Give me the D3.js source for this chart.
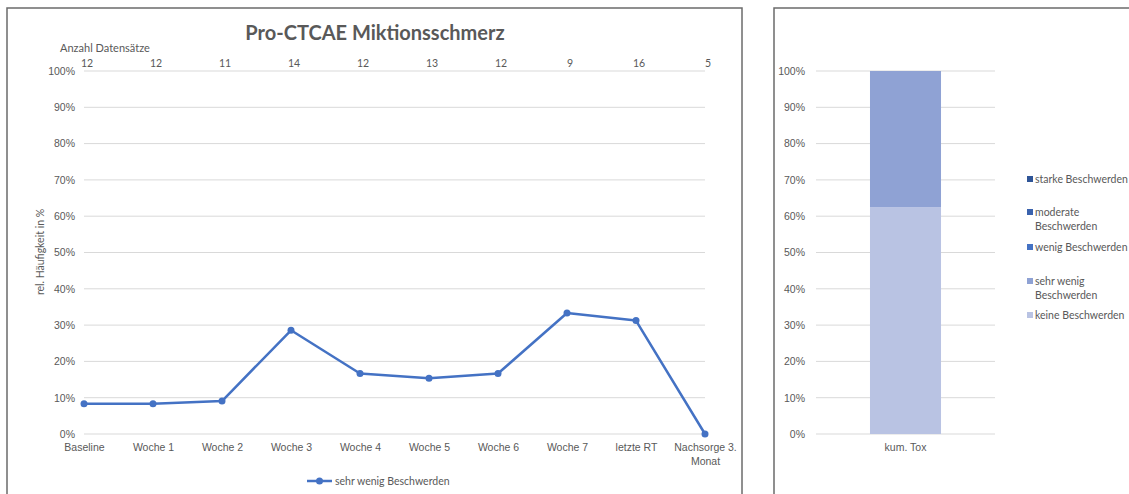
<!DOCTYPE html>
<html>
<head>
<meta charset="utf-8">
<script src="https://cdn.jsdelivr.net/npm/d3@7"></script>
<style>
  body { margin: 0; background: #fff; }
  svg { font-family: Lato, "Open Sans", sans-serif; }
  .tick text { fill: #595959; font-size: 10.5px; }
</style>
</head>
<body>
<svg width="1129" height="494"></svg>
<script>
// Linke Grafik: Verlauf "sehr wenig Beschwerden"
let categories = ['Baseline', 'Woche 1', 'Woche 2', 'Woche 3', 'Woche 4', 'Woche 5', 'Woche 6', 'Woche 7', 'letzte RT', 'Nachsorge 3. Monat'];
let counts = [12, 12, 11, 14, 12, 13, 12, 9, 16, 5];
let sehrWenig = [0.0833, 0.0833, 0.0909, 0.2857, 0.1667, 0.1538, 0.1667, 0.3333, 0.3125, 0];

// Rechte Grafik: kumulative Toxizität
let stackKeys = ['keine Beschwerden', 'sehr wenig Beschwerden', 'wenig Beschwerden', 'moderate Beschwerden', 'starke Beschwerden'];
let stackValues = [0.625, 0.375, 0, 0, 0];
let stackColors = ['#b9c3e3', '#8fa2d4', '#4472c4', '#3a62ad', '#2f5597'];
let yTicks = [0, 0.1, 0.2, 0.3, 0.4, 0.5, 0.6, 0.7, 0.8, 0.9, 1];

let svg = d3.select('svg');
let textColor = '#595959';
let gridColor = '#d9d9d9';
let lineColor = '#4472c4';

// Rahmen
svg.append('rect').attr('x', 7).attr('y', 8).attr('width', 735).attr('height', 500)
  .attr('fill', 'none').attr('stroke', '#6b6b6b').attr('stroke-width', 1.5);
svg.append('rect').attr('x', 774).attr('y', 8).attr('width', 400).attr('height', 500)
  .attr('fill', 'none').attr('stroke', '#6b6b6b').attr('stroke-width', 1.5);

let yScale = d3.scaleLinear().domain([0, 1]).range([434, 71]);

let xScale = d3.scalePoint()
  .domain(categories)
  .range([84, 705]);

// Gitterlinien links
svg.append('g')
  .selectAll('line')
  .data(yTicks)
  .enter()
  .append('line')
  .attr('x1', 84).attr('x2', 705)
  .attr('y1', d => yScale(d)).attr('y2', d => yScale(d))
  .attr('stroke', gridColor).attr('stroke-width', 1);

let yAxis = d3.axisLeft(yScale).tickValues(yTicks).tickFormat(d3.format('.0%')).tickSize(0).tickPadding(9);
svg.append('g')
  .attr('transform', 'translate(84,0)')
  .call(yAxis)
  .call(g => g.select('.domain').remove());

let xAxis = d3.axisBottom(xScale).tickSize(0).tickPadding(10);
svg.append('g')
  .attr('transform', 'translate(0,434)')
  .call(xAxis)
  .call(g => g.select('.domain').remove())
  .selectAll('.tick text')
  .each(function (d) {
    if (d === 'Nachsorge 3. Monat') {
      let t = d3.select(this).text(null);
      t.append('tspan').attr('x', 0).text('Nachsorge 3.');
      t.append('tspan').attr('x', 0).attr('dy', '1.3em').text('Monat');
    }
  });

// Anzahl Datensätze
svg.append('text')
  .attr('x', 60).attr('y', 52)
  .attr('fill', textColor).style('font-size', '11px')
  .text('Anzahl Datensätze');

svg.append('g')
  .selectAll('text')
  .data(counts)
  .enter()
  .append('text')
  .attr('x', (d, i) => xScale(categories[i]) + 3)
  .attr('y', 67)
  .attr('text-anchor', 'middle')
  .attr('fill', textColor).style('font-size', '10.5px')
  .text(d => d);

// Titel
svg.append('text')
  .attr('x', 375).attr('y', 40)
  .attr('text-anchor', 'middle')
  .attr('fill', textColor)
  .style('font-size', '20px').style('font-weight', 'bold')
  .text('Pro-CTCAE Miktionsschmerz');

// Achsentitel
svg.append('text')
  .attr('transform', 'rotate(-90)')
  .attr('x', -252).attr('y', 44)
  .attr('text-anchor', 'middle')
  .attr('fill', textColor).style('font-size', '10.5px')
  .text('rel. Häufigkeit in %');

// Linie
let line = d3.line()
  .x((d, i) => xScale(categories[i]))
  .y(d => yScale(d));

svg.append('path')
  .datum(sehrWenig)
  .attr('d', line)
  .attr('fill', 'none')
  .attr('stroke', lineColor)
  .attr('stroke-width', 2.5)
  .attr('stroke-linejoin', 'round');

svg.append('g')
  .selectAll('circle')
  .data(sehrWenig)
  .enter()
  .append('circle')
  .attr('cx', (d, i) => xScale(categories[i]))
  .attr('cy', d => yScale(d))
  .attr('r', 3.5)
  .attr('fill', lineColor);

// Legende links
let leg = svg.append('g').attr('transform', 'translate(307,481)');
leg.append('line').attr('x1', 0).attr('x2', 25).attr('y1', 0).attr('y2', 0)
  .attr('stroke', lineColor).attr('stroke-width', 2.5);
leg.append('circle').attr('cx', 12.5).attr('cy', 0).attr('r', 3.5).attr('fill', lineColor);
leg.append('text').attr('x', 28).attr('y', 3.5)
  .attr('fill', textColor).style('font-size', '10.5px')
  .text('sehr wenig Beschwerden');

// Rechte Grafik
let xBar = d3.scaleBand().domain(['kum. Tox']).range([816, 995]).paddingInner(0).paddingOuter(0.76);

svg.append('g')
  .selectAll('line')
  .data(yTicks)
  .enter()
  .append('line')
  .attr('x1', 816).attr('x2', 995)
  .attr('y1', d => yScale(d)).attr('y2', d => yScale(d))
  .attr('stroke', gridColor).attr('stroke-width', 1);

svg.append('g')
  .attr('transform', 'translate(816,0)')
  .call(d3.axisLeft(yScale).tickValues(yTicks).tickFormat(d3.format('.0%')).tickSize(0).tickPadding(11))
  .call(g => g.select('.domain').remove());

svg.append('g')
  .attr('transform', 'translate(0,434)')
  .call(d3.axisBottom(xBar).tickSize(0).tickPadding(10))
  .call(g => g.select('.domain').remove());

let stackRow = {};
stackKeys.forEach((k, i) => { stackRow[k] = stackValues[i]; });
let series = d3.stack().keys(stackKeys)([stackRow]);

svg.append('g')
  .selectAll('rect')
  .data(series)
  .enter()
  .append('rect')
  .attr('x', xBar('kum. Tox'))
  .attr('width', xBar.bandwidth())
  .attr('y', d => yScale(d[0][1]))
  .attr('height', d => yScale(d[0][0]) - yScale(d[0][1]))
  .attr('fill', (d, i) => stackColors[i]);

// Legende rechts (oben: starke, unten: keine)
let legendItems = [
  { lines: ['starke Beschwerden'], y: 179, color: stackColors[4] },
  { lines: ['moderate', 'Beschwerden'], y: 212, color: stackColors[3] },
  { lines: ['wenig Beschwerden'], y: 247, color: stackColors[2] },
  { lines: ['sehr wenig', 'Beschwerden'], y: 281, color: stackColors[1] },
  { lines: ['keine Beschwerden'], y: 315, color: stackColors[0] }
];

let lg = svg.append('g')
  .selectAll('g')
  .data(legendItems)
  .enter()
  .append('g')
  .attr('transform', d => 'translate(1027,' + d.y + ')');

lg.append('rect').attr('x', 0).attr('y', -3).attr('width', 6).attr('height', 6)
  .attr('fill', d => d.color);

lg.append('text')
  .attr('x', 8).attr('y', 3.5)
  .attr('fill', textColor).style('font-size', '10.5px')
  .each(function (d) {
    let t = d3.select(this);
    d.lines.forEach((s, i) => {
      t.append('tspan').attr('x', 8).attr('dy', i === 0 ? 0 : '1.35em').text(s);
    });
  });
</script>
</body>
</html>
